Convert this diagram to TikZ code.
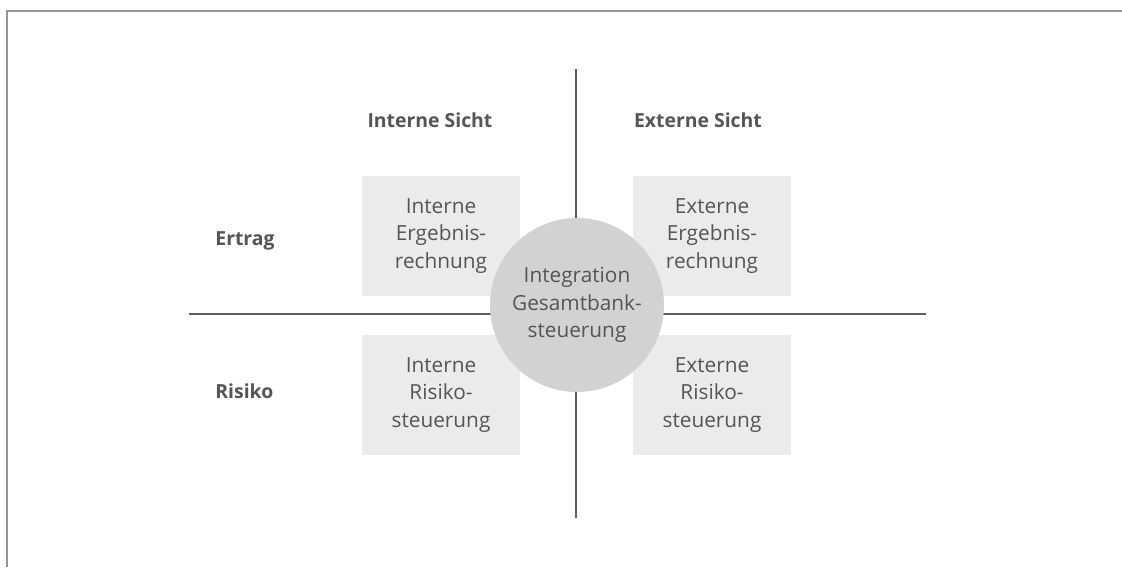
\documentclass[tikz,border=0pt]{standalone}
\usepackage{fontspec}
\setmainfont{Open Sans}
\definecolor{txt}{HTML}{555555}
\definecolor{boxfill}{HTML}{EBEBEB}
\definecolor{circfill}{HTML}{D2D2D2}
\definecolor{axis}{HTML}{5E5E5E}
\definecolor{frame}{HTML}{959595}
\tikzset{
  field/.style={fill=boxfill, draw=none, minimum width=79pt, minimum height=60pt, inner sep=0pt,
    align=center, text=txt, font=\fontsize{10.4}{13.7}\selectfont},
  hub/.style={circle, fill=circfill, draw=none, minimum size=87pt, inner sep=0pt,
    align=center, text=txt, font=\fontsize{10.4}{13.7}\selectfont},
  head/.style={text=txt, font=\fontsize{9.7}{12}\selectfont\bfseries, inner sep=0pt},
  axisline/.style={draw=axis, line width=1pt},
  frameline/.style={draw=frame, line width=1pt}
}
\begin{document}
\begin{tikzpicture}[x=0.5pt, y=-0.5pt]
\useasboundingbox (0,0) rectangle (1122,567);
% frame (top and left only)
\coordinate (fl) at (7,567);
\coordinate (ftl) at (7,11.5);
\coordinate (ftr) at (1122,11.5);
\draw[frameline] (fl) -- (ftl) -- (ftr);
% axes
\coordinate (vt) at (576,69);
\coordinate (vb) at (576,518);
\coordinate (hl) at (189,314);
\coordinate (hr) at (926,314);
\draw[axisline] (vt) -- (vb);
\draw[axisline] (hl) -- (hr);
% headings
\node[head, anchor=base] (is) at (430,127) {Interne Sicht};
\node[head, anchor=base] (es) at (698,127) {Externe Sicht};
\node[head, anchor=base west] (er) at (215,245) {Ertrag};
\node[head, anchor=base west] (ri) at (215,398) {Risiko};
% fields
\node[field] (ie) at (441,236) {Interne\\Ergebnis-\\rechnung};
\node[field] (ee) at (712,236) {Externe\\Ergebnis-\\rechnung};
\node[field] (ir) at (441,395) {Interne\\Risiko-\\steuerung};
\node[field] (xr) at (712,395) {Externe\\Risiko-\\steuerung};
% hub
\node[hub] (hub) at (577,305) {Integration\\Gesamtbank-\\steuerung};
\end{tikzpicture}
\end{document}
